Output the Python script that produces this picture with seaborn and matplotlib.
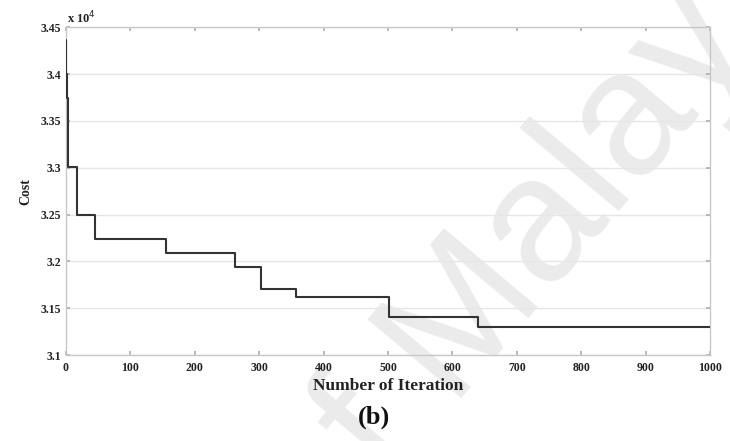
import numpy as np
import pandas as pd
import matplotlib
matplotlib.use("Agg")
import matplotlib.pyplot as plt
import seaborn as sns

# Best cost per iteration (units of 10^4), as a step history
iterations = [0, 1, 2, 4, 18, 46, 156, 262, 303, 357, 501, 640, 1000]
cost = [3.437, 3.40, 3.374, 3.301, 3.250, 3.224, 3.209, 3.194, 3.170, 3.162, 3.141, 3.130, 3.130]

x_ticks = [0, 100, 200, 300, 400, 500, 600, 700, 800, 900, 1000]
y_ticks = [3.1, 3.15, 3.2, 3.25, 3.3, 3.35, 3.4, 3.45]
y_tick_labels = ["3.1", "3.15", "3.2", "3.25", "3.3", "3.35", "3.4", "3.45"]

sns.set_theme(style="white")
plt.rcParams["font.family"] = ["Liberation Serif", "DejaVu Serif"]

df = pd.DataFrame({"Iteration": iterations, "Cost": cost})

fig = plt.figure(figsize=(7.30, 4.41), dpi=100)

# faint watermark behind everything
fig.text(0.446, -0.27, "of Malaya", fontsize=128, color="#ebebeb",
         rotation=50, rotation_mode="anchor", ha="left", va="baseline",
         family="Liberation Sans", zorder=-5)

ax = fig.add_axes([0.090, 0.195, 0.883, 0.743])
ax.patch.set_alpha(0.0)
ax.set_zorder(2)

sns.lineplot(data=df, x="Iteration", y="Cost", ax=ax, color="#333333",
             linewidth=1.5, drawstyle="steps-post", zorder=3)

ax.set_xlim(0, 1000)
ax.set_ylim(3.1, 3.45)
ax.set_xticks(x_ticks)
ax.set_xticklabels([str(t) for t in x_ticks])
ax.set_yticks(y_ticks)
ax.set_yticklabels(y_tick_labels)

ax.yaxis.grid(True, color="#e6e6e6", linewidth=1.0)
ax.xaxis.grid(False)
for s in ax.spines.values():
    s.set_color("#c8c8c8")
    s.set_linewidth(1.0)

ax.tick_params(axis="both", which="both", direction="in", length=3,
               color="#b0b0b0", top=True, right=True, bottom=True, left=True,
               labelsize=8.5)
ax.tick_params(axis="x", pad=5)
ax.tick_params(axis="y", pad=3)
for lbl in ax.get_xticklabels() + ax.get_yticklabels():
    lbl.set_fontweight("bold")
    lbl.set_color("#222222")

ax.set_xlabel("Number of Iteration", fontsize=12.5, fontweight="bold", labelpad=3, color="#222222")
ax.set_ylabel("Cost", fontsize=10, fontweight="bold", labelpad=6, color="#222222")

ax.text(0.002, 1.003, r"x 10$^4$", transform=ax.transAxes, fontsize=9,
        fontweight="bold", ha="left", va="bottom", color="#222222")

fig.text(0.512, 0.054, "(b)", fontsize=19, fontweight="bold", ha="center",
         va="center", color="#111111", zorder=5)

fig.savefig("out.png", dpi=100)
